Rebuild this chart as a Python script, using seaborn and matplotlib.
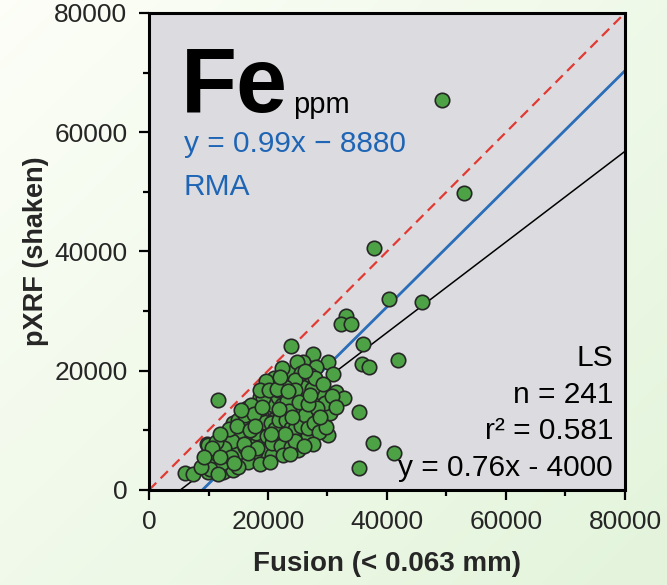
import numpy as np
import pandas as pd
import matplotlib
matplotlib.use("Agg")
import matplotlib.pyplot as plt
import seaborn as sns

# Fe, ppm: fusion (< 0.063 mm) vs pXRF (shaken)
fusion = [
    49200, 52900, 37800, 40300, 45900, 33100, 32300, 34000, 36000, 23900,
    27600, 35800, 37000, 30100, 30900, 25900, 28100, 23900, 26700, 31400,
    32800, 28600, 26700, 35300, 29200, 30400, 27600, 29200, 30100, 26700,
    25000, 37600, 35300, 41200, 41800, 11600, 6000, 7400,
    20000, 18300, 20300, 17500, 14100, 15600, 19000, 16300, 20800, 12800,
    9700, 14500, 17000, 19200, 15800, 11900, 10800, 12800, 14500, 16500,
    18700, 9700, 11400, 12800, 20300, 20800, 19500,
    20800, 19800, 22700, 24200, 23700, 23200, 28400, 27100, 24700, 22500,
    20000, 16500, 15000, 17300, 22500, 24200, 29200, 30400, 21700, 19800,
    19200, 17000, 15800, 14100, 9900, 12800, 11400, 10300, 13100, 15000,
    17500, 21200, 23200, 25000, 25700, 28200, 25900, 24900, 21200, 18700,
    17300, 15800, 14100, 13100, 11900,
    21200, 22500, 23700, 24900, 28700, 26700, 24900, 22500, 19800, 22000,
    24200, 26600, 24200, 22000, 19800, 19200, 21500, 19200, 20700,
    9900, 12400, 14100,
    10500, 11200, 12200, 13200, 13800, 14800, 15200, 16200, 16800, 17800,
    18200, 17900, 16800, 18000, 18800, 19400, 20500, 21200, 21800, 20800,
    21600, 22300, 23200, 23500, 23000, 23800, 24600, 25600, 26200, 25800,
    26400, 27400, 27000, 25600, 24600, 22900, 21700, 19200, 18600, 17200,
    16100, 15300, 14000, 12600, 11300, 10600, 19800, 20600, 22200, 23800,
    24600, 26800, 27800, 28600, 29600, 28200, 27900, 26200, 22400, 21000,
    19700, 18600, 13400, 16600, 18600, 20300, 22600, 23700, 27500, 12000,
    17600, 15400, 20200, 14800, 10200, 8800, 9200, 11600, 15000, 24500,
    29300, 30700, 31500, 29800, 26000,
    21800, 19000, 17000, 15900, 13700, 12000, 22800, 25200, 26800, 28800,
    21500, 23300, 20500, 18200, 16700, 14300, 24000, 27000, 22000, 17800,
]
pxrf = [
    65400, 49800, 40600, 32000, 31500, 29200, 27800, 27800, 24500, 24100,
    22800, 21100, 20600, 21500, 19500, 21500, 20600, 19500, 18100, 16400,
    15400, 16400, 15400, 13100, 13100, 13100, 13100, 11200, 9200, 9200,
    6700, 7900, 3700, 6200, 21800, 15100, 2900, 2700,
    16300, 14600, 12900, 12900, 11200, 11200, 10600, 10100, 9600, 8400,
    7700, 7900, 7900, 6900, 6700, 7000, 5900, 5200, 5400, 5500,
    5400, 4200, 3900, 3700, 6200, 15100, 13900,
    17400, 16400, 16100, 17100, 19300, 18400, 16300, 15400, 13900, 12900,
    12600, 13800, 11700, 9700, 10600, 9600, 12900, 12900, 6700, 7200,
    5500, 7200, 6400, 5500, 7500, 5000, 4200, 4000, 3400, 5000,
    5500, 8400, 8700, 11200, 13400, 15100, 14300, 12600, 13400, 15600,
    12900, 10600, 9700, 8900, 7200,
    17600, 17900, 19600, 21500, 16400, 15600, 15600, 15900, 13900, 12900,
    13800, 11700, 11700, 10900, 10400, 8400, 8900, 6700, 5900,
    3000, 3000, 3400,
    5200, 6200, 4600, 6200, 7000, 6200, 8800, 7200, 8600, 6400,
    8000, 9600, 11200, 11800, 12400, 11400, 11200, 10200, 11800, 14200,
    15600, 14200, 15000, 13200, 11800, 10400, 10200, 10800, 12600, 16400,
    17200, 17000, 19300, 19600, 18400, 17200, 16700, 15400, 13600, 14200,
    12600, 9900, 8200, 7000, 8000, 7000, 9000, 7800, 7400, 7200,
    8200, 10400, 11200, 9800, 14600, 13800, 18800, 20000, 20400, 18800,
    18200, 16800, 10200, 4700, 4400, 4700, 5800, 6100, 7700, 9400,
    12800, 13400, 16700, 10800, 3600, 3900, 5600, 2700, 3900, 16800,
    17800, 15800, 13900, 10600, 7300,
    13600, 14000, 10000, 7700, 5600, 5600, 9400, 14800, 14400, 12200,
    17000, 16600, 9400, 7000, 6200, 4600, 12200, 16000, 19000, 10800,
]

# regression summaries
rma_slope, rma_icpt = 0.99, -8880
ls_slope, ls_icpt = 0.76, -4000
n_samples = 241
r_squared = 0.581

axis_ticks = [0, 20000, 40000, 60000, 80000]

df = pd.DataFrame({"fusion": fusion, "pxrf": pxrf})

sns.set_theme(style="ticks")
plt.rcParams["font.family"] = ["Liberation Sans", "DejaVu Sans"]

fig = plt.figure(figsize=(6.67, 5.85), dpi=100)

# pale green gradient backdrop
bg = fig.add_axes([0, 0, 1, 1], zorder=-10)
gy, gx = np.mgrid[0:1:200j, 0:1:200j]
t = np.clip(0.5 * gy + 0.55 * gx, 0, 1)
top = np.array([0.990, 0.997, 0.970])
bot = np.array([0.895, 0.960, 0.865])
img = top[None, None, :] * (1 - t[..., None]) + bot[None, None, :] * t[..., None]
bg.imshow(img, aspect="auto", extent=[0, 1, 0, 1], origin="upper")
bg.axis("off")

ax = fig.add_axes([0.2234, 0.1624, 0.7136, 0.8154])
ax.set_facecolor("#dcdce0")

lim = [0, 80000]
xs = np.array(lim, dtype=float)
ax.plot(xs, xs, color="#e23a32", lw=1.6, dashes=(4.6, 2.8), zorder=2)
ax.plot(xs, rma_slope * xs + rma_icpt, color="#2a6db8", lw=2.0, zorder=2)
ax.plot(xs, ls_slope * xs + ls_icpt, color="black", lw=1.1, zorder=2)

sns.scatterplot(data=df, x="fusion", y="pxrf", ax=ax, s=108,
                color="#4ca245", edgecolor="#262626", linewidth=1.2,
                zorder=3, legend=False)

ax.set_xlim(lim)
ax.set_ylim(lim)
ax.set_xticks(axis_ticks)
ax.set_yticks(axis_ticks)
ax.set_xticks(np.arange(10000, 80000, 20000), minor=True)
ax.set_yticks(np.arange(10000, 80000, 20000), minor=True)
ax.set_xticklabels([str(v) for v in axis_ticks])
ax.set_yticklabels([str(v) for v in axis_ticks])
ax.tick_params(axis="x", which="major", pad=7)
ax.tick_params(axis="y", which="major", pad=8)
ax.tick_params(axis="both", which="major", length=7.5, width=1.6,
               labelsize=19, direction="out", color="black")
ax.tick_params(axis="both", which="minor", length=4, width=1.6,
               direction="out", color="black")
for sp in ax.spines.values():
    sp.set_linewidth(2.2)
    sp.set_color("black")
    sp.set_visible(True)

ax.set_xlabel("Fusion (< 0.063 mm)", fontsize=20, fontweight="bold", labelpad=12)
ax.set_ylabel("pXRF (shaken)", fontsize=19.5, fontweight="bold", labelpad=4)

ax.text(5300, 63400, "Fe", fontsize=66, fontweight="bold", color="black",
        ha="left", va="baseline")
ax.text(24200, 63200, "ppm", fontsize=21, color="black", ha="left", va="baseline")
ax.text(5800, 56700, f"y = {rma_slope}x \u2212 {abs(rma_icpt)}", fontsize=21.5,
        color="#1f65b5", ha="left", va="baseline")
ax.text(5800, 49500, "RMA", fontsize=21.5, color="#1f65b5", ha="left",
        va="baseline")

ls_lines = ["LS", f"n = {n_samples}", f"r\u00b2 = {r_squared}",
            f"y = {ls_slope}x - {abs(ls_icpt)}"]
for txt, yb in zip(ls_lines, [20800, 14600, 8550, 2350]):
    ax.text(78000, yb, txt, fontsize=21.5, color="black", ha="right",
            va="baseline")

fig.savefig("out.png", dpi=100)
